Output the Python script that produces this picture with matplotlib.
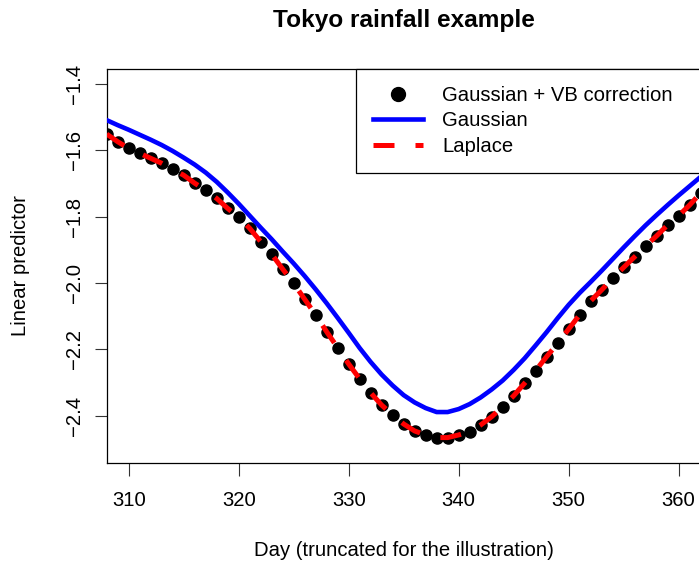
import numpy as np
import matplotlib
matplotlib.use("Agg")
import matplotlib.pyplot as plt
from matplotlib.lines import Line2D

plt.rcParams['font.family'] = ['Liberation Sans', 'DejaVu Sans']

# days shown (truncated window)
days = list(range(308, 363))

# Gaussian + VB correction (points)
vb = [-1.551, -1.574, -1.594, -1.609, -1.624, -1.639, -1.657, -1.675, -1.699, -1.720,
      -1.745, -1.775, -1.802, -1.835, -1.875, -1.913, -1.958, -2.001, -2.049, -2.096,
      -2.147, -2.195, -2.244, -2.289, -2.331, -2.368, -2.398, -2.425, -2.446, -2.458,
      -2.466, -2.466, -2.458, -2.448, -2.428, -2.403, -2.373, -2.340, -2.302, -2.264,
      -2.222, -2.182, -2.139, -2.096, -2.054, -2.021, -1.986, -1.953, -1.921, -1.888,
      -1.858, -1.825, -1.797, -1.765, -1.729]

# Gaussian approximation
gauss = [-1.509, -1.524, -1.538, -1.553, -1.568, -1.584, -1.602, -1.622, -1.643, -1.667,
         -1.695, -1.727, -1.761, -1.797, -1.833, -1.868, -1.905, -1.941, -1.979, -2.019,
         -2.061, -2.105, -2.150, -2.196, -2.238, -2.276, -2.309, -2.338, -2.360, -2.377,
         -2.389, -2.389, -2.380, -2.365, -2.345, -2.321, -2.294, -2.262, -2.227, -2.188,
         -2.148, -2.106, -2.066, -2.030, -1.997, -1.963, -1.928, -1.893, -1.859, -1.826,
         -1.795, -1.765, -1.736, -1.708, -1.680]

# Laplace approximation
laplace = [-1.551, -1.574, -1.594, -1.609, -1.624, -1.639, -1.657, -1.675, -1.699, -1.720,
           -1.745, -1.775, -1.802, -1.835, -1.875, -1.913, -1.958, -2.001, -2.049, -2.096,
           -2.147, -2.195, -2.244, -2.289, -2.331, -2.368, -2.398, -2.425, -2.446, -2.458,
           -2.466, -2.466, -2.458, -2.448, -2.428, -2.403, -2.373, -2.340, -2.302, -2.264,
           -2.222, -2.182, -2.139, -2.096, -2.054, -2.021, -1.986, -1.953, -1.921, -1.888,
           -1.858, -1.825, -1.797, -1.765, -1.729]

xticks = [310, 320, 330, 340, 350, 360]
yticks = [-2.4, -2.2, -2.0, -1.8, -1.6, -1.4]
ytick_labels = ["\u22122.4", "\u22122.2", "\u22122.0", "\u22121.8", "\u22121.6", "\u22121.4"]

W, H = 699, 567
FS = 14.6
fig = plt.figure(figsize=(W / 100, H / 100), dpi=100)
# plot region runs a little past the right edge of the image
ax = fig.add_axes([106.7 / W, (H - 463) / H, 595 / W, 393.7 / H])

ax.plot(days, vb, 'o', color='black', markersize=8, zorder=2)
ax.plot(days, gauss, '-', color='blue', lw=3.3, solid_joinstyle='round', zorder=3)
ax.plot(days, laplace, color='red', lw=3.6, dashes=(4.2, 4.2), zorder=4)

ax.set_xlim(308, 362.1)
ax.set_ylim(-2.5426, -1.3557)
ax.set_xticks(xticks)
ax.set_yticks(yticks)
ax.set_yticklabels(ytick_labels, rotation=90, va='center')
ax.tick_params(axis='both', labelsize=FS, length=9, width=0.8, color='#333333')
ax.tick_params(axis='x', pad=11)
ax.tick_params(axis='y', pad=7)
for s in ax.spines.values():
    s.set_linewidth(0.9)

handles = [
    Line2D([], [], marker='o', ls='none', color='black', markersize=10),
    Line2D([], [], color='blue', lw=3.3),
    Line2D([], [], color='red', lw=3.6, dashes=(4.2, 4.2)),
]
# legend box starts at x=355.7 px and runs to the (off-image) right edge
x0 = (355.7 - 106.7) / 595
leg = ax.legend(handles, ["Gaussian + VB correction", "Gaussian", "Laplace"],
                loc='upper left', bbox_to_anchor=(x0, 0, 1 - x0, 1), mode='expand',
                borderaxespad=0, fontsize=FS, frameon=True, fancybox=False,
                framealpha=1, edgecolor='black', handlelength=2.47,
                handletextpad=0.98, borderpad=0.83, labelspacing=0.31)
leg.get_frame().set_linewidth(0.9)

fig.text(403.8 / W, 1 - 26.7 / H, "Tokyo rainfall example", ha='center', va='baseline',
         fontsize=FS * 1.2, fontweight='bold')
fig.text(403.8 / W, 1 - 556 / H, "Day (truncated for the illustration)", ha='center',
         va='baseline', fontsize=FS)
fig.text(26 / W, 1 - 266 / H, "Linear predictor", ha='center', va='baseline',
         rotation=90, rotation_mode='anchor', fontsize=FS)

fig.savefig("out.png", dpi=100)
